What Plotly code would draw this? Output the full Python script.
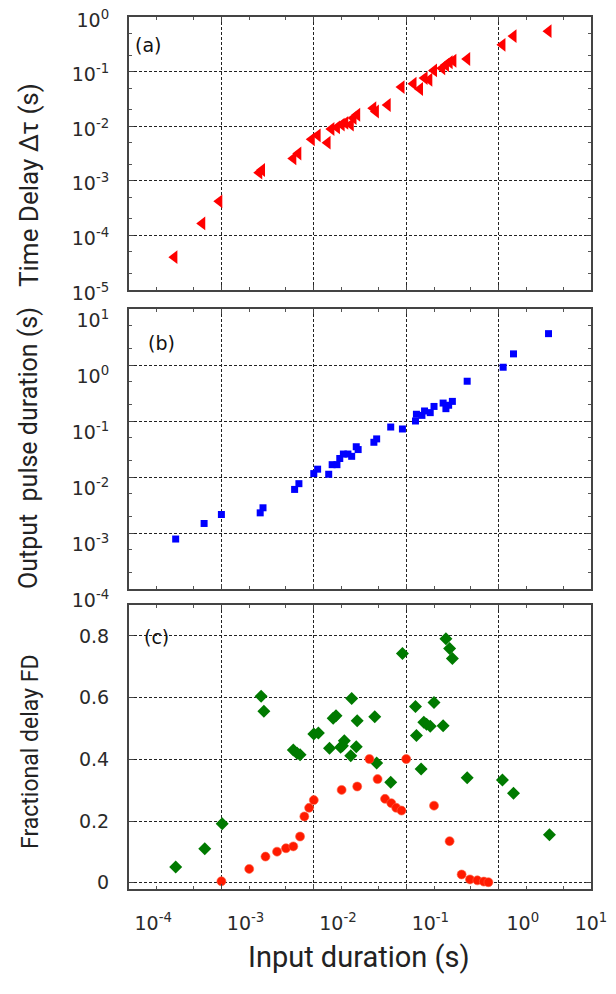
import plotly.graph_objects as go

# ---------------- data ----------------
# (a) time delay vs input duration
delay_x = [3.1e-4, 6.2e-4, 9.5e-4, 2.57e-3, 2.75e-3, 6.0e-3, 6.8e-3, 9.5e-3, 1.10e-2, 1.41e-2,
           1.55e-2, 1.78e-2, 2.0e-2, 2.19e-2, 2.51e-2, 2.69e-2, 2.95e-2, 4.4e-2, 4.7e-2, 6.3e-2,
           8.9e-2, 0.120, 0.141, 0.158, 0.178, 0.200, 0.245, 0.269, 0.295, 0.324,
           0.457, 1.10, 1.45, 3.47]
delay_y = [4.0e-5, 1.66e-4, 4.2e-4, 1.41e-3, 1.58e-3, 2.57e-3, 3.16e-3, 5.75e-3, 6.8e-3, 5.0e-3,
           8.9e-3, 9.5e-3, 1.07e-2, 1.15e-2, 1.07e-2, 1.41e-2, 1.62e-2, 2.14e-2, 1.86e-2, 2.45e-2,
           5.2e-2, 6.0e-2, 4.8e-2, 7.6e-2, 7.1e-2, 0.105, 0.115, 0.132, 0.148, 0.158,
           0.170, 0.309, 0.447, 0.550]

# (b) output pulse duration vs input duration
out_x = [3.2e-4, 6.5e-4, 1.0e-3, 2.63e-3, 2.82e-3, 6.2e-3, 6.9e-3, 1.0e-2, 1.10e-2, 1.45e-2,
         1.58e-2, 1.78e-2, 1.91e-2, 2.09e-2, 2.34e-2, 2.57e-2, 2.88e-2, 3.02e-2, 4.47e-2, 4.79e-2,
         6.8e-2, 9.1e-2, 0.126, 0.129, 0.148, 0.158, 0.182, 0.200, 0.251, 0.269,
         0.288, 0.316, 0.457, 1.12, 1.45, 3.47]
out_y = [7.8e-4, 1.48e-3, 2.14e-3, 2.29e-3, 2.82e-3, 6.0e-3, 7.6e-3, 1.15e-2, 1.38e-2, 1.12e-2,
         1.66e-2, 1.66e-2, 2.14e-2, 2.57e-2, 2.57e-2, 2.34e-2, 3.47e-2, 3.09e-2, 4.17e-2, 4.79e-2,
         7.8e-2, 7.2e-2, 0.100, 0.132, 0.126, 0.151, 0.141, 0.182, 0.209, 0.166,
         0.191, 0.224, 0.513, 0.912, 1.58, 3.63]

# (c) fractional delay, red circles
fd_red_x = [1.0e-3, 2.0e-3, 3.0e-3, 4.0e-3, 5.0e-3, 6.0e-3, 7.1e-3, 7.9e-3, 8.9e-3, 1.0e-2,
            2.0e-2, 2.95e-2, 4.0e-2, 4.9e-2, 5.9e-2, 6.9e-2, 7.8e-2, 8.9e-2, 0.100, 0.200,
            0.295, 0.398, 0.490, 0.589, 0.692, 0.776]
fd_red_y = [0.005, 0.045, 0.085, 0.101, 0.112, 0.118, 0.150, 0.215, 0.243, 0.268,
            0.301, 0.312, 0.401, 0.336, 0.272, 0.258, 0.243, 0.234, 0.401, 0.250,
            0.135, 0.027, 0.011, 0.008, 0.004, 0.002]

# (c) fractional delay, green diamonds
fd_green_x = [3.2e-4, 6.6e-4, 1.02e-3, 2.69e-3, 2.88e-3, 6.0e-3, 6.6e-3, 7.1e-3, 1.0e-2, 1.12e-2,
              1.48e-2, 1.62e-2, 1.74e-2, 1.95e-2, 2.14e-2, 2.04e-2, 2.51e-2, 2.57e-2, 2.88e-2, 2.95e-2,
              4.57e-2, 4.79e-2, 6.8e-2, 9.1e-2, 0.126, 0.129, 0.145, 0.155, 0.166, 0.182,
              0.200, 0.251, 0.269, 0.295, 0.316, 0.457, 1.10, 1.45, 3.55]
fd_green_y = [0.051, 0.110, 0.191, 0.604, 0.556, 0.430, 0.420, 0.415, 0.482, 0.485,
              0.436, 0.533, 0.541, 0.439, 0.460, 0.444, 0.412, 0.597, 0.441, 0.525,
              0.538, 0.388, 0.326, 0.743, 0.571, 0.477, 0.369, 0.520, 0.514, 0.507,
              0.584, 0.509, 0.791, 0.759, 0.727, 0.340, 0.333, 0.290, 0.156]

x_tickvals = [1e-4, 1e-3, 1e-2, 1e-1, 1e0, 1e1]
x_ticktext = ["10<sup>-4</sup>", "10<sup>-3</sup>", "10<sup>-2</sup>",
              "10<sup>-1</sup>", "10<sup>0</sup>", "10<sup>1</sup>"]
ya_tickvals = [1e-5, 1e-4, 1e-3, 1e-2, 1e-1, 1e0]
ya_ticktext = ["10<sup>-5</sup>", "10<sup>-4</sup>", "10<sup>-3</sup>",
               "10<sup>-2</sup>", "10<sup>-1</sup>", "10<sup>0</sup>"]
yb_tickvals = [1e-4, 1e-3, 1e-2, 1e-1, 1e0, 1e1]
yb_ticktext = ["10<sup>-4</sup>", "10<sup>-3</sup>", "10<sup>-2</sup>",
               "10<sup>-1</sup>", "10<sup>0</sup>", "10<sup>1</sup>"]
yc_tickvals = [0, 0.2, 0.4, 0.6, 0.8]
yc_ticktext = ["0", "0.2", "0.4", "0.6", "0.8"]

# ---------------- figure ----------------
OFF = 8                      # page body margin of the browser
W, H = 616 - OFF, 994 - OFF


def px(x):
    return (x - OFF) / W


def py(y):
    return 1 - (y - OFF) / H


TICKFONT = dict(family="DejaVu Sans", size=19, color="#2a2a2a")
TITLE_FAMILY = "Roboto, Liberation Sans, sans-serif"

x_dom = [px(129), px(591)]
dom_a = [py(290), py(17)]
dom_b = [py(589), py(309)]
dom_c = [py(889), py(605)]

fig = go.Figure()
fig.add_trace(go.Scatter(x=delay_x, y=delay_y, mode="markers", xaxis="x", yaxis="y",
                         marker=dict(symbol="triangle-left", size=12, color="#ff0000"),
                         showlegend=False))
fig.add_trace(go.Scatter(x=out_x, y=out_y, mode="markers", xaxis="x2", yaxis="y2",
                         marker=dict(symbol="square", size=7, color="#0000ff"),
                         showlegend=False))
fig.add_trace(go.Scatter(x=fd_green_x, y=fd_green_y, mode="markers", xaxis="x3", yaxis="y3",
                         marker=dict(symbol="diamond", size=10, color="#007a00"),
                         showlegend=False))
fig.add_trace(go.Scatter(x=fd_red_x, y=fd_red_y, mode="markers", xaxis="x3", yaxis="y3",
                         marker=dict(symbol="circle", size=9, color="#ff1a00",
                                     line=dict(color="#ff6040", width=0.6)),
                         showlegend=False))

common = dict(showline=True, linecolor="#444444", linewidth=2, mirror="allticks",
              ticks="inside", ticklen=5, tickcolor="#444444",
              showgrid=True, gridcolor="#222222", gridwidth=1, griddash="3px,2px",
              zeroline=False, automargin=False, tickfont=TICKFONT)
minor_log = dict(ticks="inside", ticklen=3, tickcolor="#555555", showgrid=False)

xcommon = dict(common, type="log", range=[-4, 1], domain=x_dom,
               tickvals=x_tickvals, minor=minor_log)

x3_text = ["\u2007\u2007\u2007\u2007" + t for t in x_ticktext[:-1]] + [x_ticktext[-1]]

fig.update_layout(
    width=W, height=H,
    margin=dict(l=0, r=0, t=0, b=0),
    paper_bgcolor="white", plot_bgcolor="white",
    xaxis=dict(xcommon, anchor="y", showticklabels=False),
    xaxis2=dict(xcommon, anchor="y2", showticklabels=False),
    xaxis3=dict(xcommon, anchor="y3", showticklabels=True, ticktext=x3_text,
                ticklabelstandoff=16, ticklabeloverflow="allow"),
    yaxis=dict(common, type="log", range=[-5, 0], domain=dom_a, anchor="x",
               tickvals=ya_tickvals, ticktext=ya_ticktext, minor=minor_log,
               ticklabelstandoff=14, ticklabelshift=3, ticklabeloverflow="allow"),
    yaxis2=dict(common, type="log", range=[-4, 1], domain=dom_b, anchor="x2",
                tickvals=yb_tickvals, ticktext=yb_ticktext, minor=minor_log,
                ticklabelstandoff=14, ticklabelshift=11, ticklabeloverflow="allow"),
    yaxis3=dict(common, range=[-0.02, 0.9], domain=dom_c, anchor="x3",
                tickvals=yc_tickvals, ticktext=yc_ticktext, ticklabelstandoff=14),
)

ann_font = dict(family="DejaVu Sans", size=19, color="#111111")
annotations = [
    dict(text="(a)", x=px(148), y=py(45), font=ann_font),
    dict(text="(b)", x=px(161), y=py(343), font=ann_font),
    dict(text="(c)", x=px(156), y=py(637), font=ann_font),
    dict(text="Time Delay Δτ (s)", x=px(29), y=py(185), textangle=-90,
         font=dict(family=TITLE_FAMILY, size=26, color="#222222")),
    dict(text="Output\u00a0 pulse duration (s)", x=px(29), y=py(448), textangle=-90,
         font=dict(family=TITLE_FAMILY, size=25, color="#222222")),
    dict(text="Fractional delay FD", x=px(30), y=py(752), textangle=-90,
         font=dict(family=TITLE_FAMILY, size=23, color="#222222")),
    dict(text="Input duration (s)", x=px(359), y=py(957),
         font=dict(family=TITLE_FAMILY, size=29, color="#222222")),
]
for a in annotations:
    a.update(xref="paper", yref="paper", showarrow=False, xanchor="center", yanchor="middle")
fig.update_layout(annotations=annotations)

fig.write_html("out.html")
